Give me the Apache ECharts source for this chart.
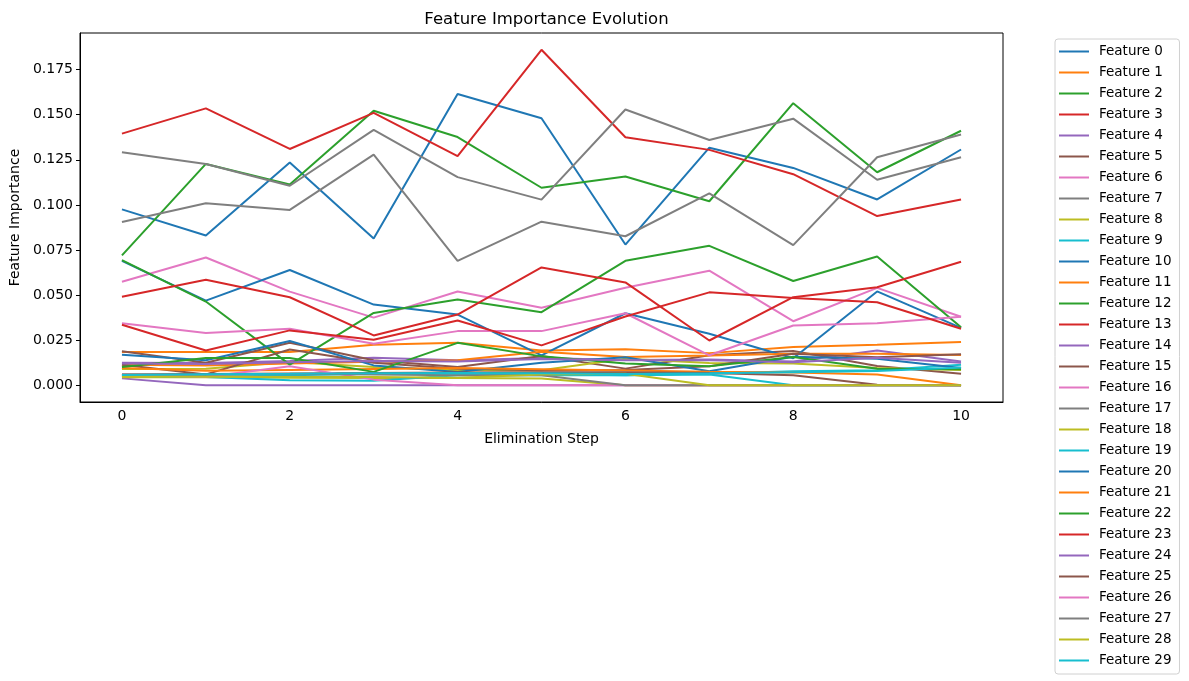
<!DOCTYPE html>
<html>
<head>
<meta charset="utf-8">
<script src="https://cdn.jsdelivr.net/npm/echarts@6/dist/echarts.min.js"></script>
<style>html,body{margin:0;padding:0;background:#fff;}#c{width:1189px;height:681px;}</style>
</head>
<body>
<div id="c"></div>
<script>
const steps = ['0','1','2','3','4','5','6','7','8','9','10'];
const yTicks = [0, 0.025, 0.05, 0.075, 0.1, 0.125, 0.15, 0.175];
const colors = ['#1f77b4','#ff7f0e','#2ca02c','#d62728','#9467bd','#8c564b','#e377c2','#7f7f7f','#bcbd22','#17becf'];

const f0  = [0.0975, 0.083, 0.1235, 0.0813, 0.1615, 0.148, 0.078, 0.1317, 0.1205, 0.103, 0.1307];
const f1  = [0.0184, 0.0184, 0.0184, 0.0225, 0.0235, 0.0193, 0.0199, 0.0178, 0.0212, 0.0224, 0.0239];
const f2  = [0.072, 0.1227, 0.1113, 0.1522, 0.1376, 0.1095, 0.1157, 0.102, 0.1564, 0.1181, 0.1411];
const f3  = [0.1395, 0.1535, 0.131, 0.151, 0.127, 0.186, 0.1375, 0.1305, 0.117, 0.0938, 0.103];
const f4  = [0.0125, 0.0123, 0.0135, 0.0153, 0.0138, 0.0151, 0.014, 0.0143, 0.0132, 0.0193, 0.0132];
const f5  = [0.0188, 0.0125, 0.0235, 0.0138, 0.0101, 0.0162, 0.0092, 0.0166, 0.019, 0.0107, 0.0064];
const f6  = [0.0574, 0.0708, 0.0519, 0.0375, 0.052, 0.043, 0.054, 0.0635, 0.0355, 0.054, 0.038];
const f7  = [0.1292, 0.1227, 0.1106, 0.1416, 0.1154, 0.1029, 0.1529, 0.136, 0.1478, 0.1139, 0.1264];
const f8  = [0.009, 0.0092, 0.0129, 0.0101, 0.0083, 0.0083, 0.0147, 0.0123, 0.012, 0.0095, 0.0085];
const f9  = [0.0054, 0.0059, 0.0055, 0.0063, 0.0063, 0.0062, 0.0055, 0.0064, 0.0077, 0.0083, 0.0114];
const f10 = [0.069, 0.0469, 0.0639, 0.0447, 0.0392, 0.0166, 0.0399, 0.0285, 0.015, 0.052, 0.0318];
const f11 = [0.0114, 0.011, 0.012, 0.013, 0.0138, 0.0185, 0.0156, 0.0165, 0.0175, 0.0175, 0.0168];
const f12 = [0.0694, 0.0464, 0.0114, 0.0401, 0.0475, 0.0405, 0.069, 0.0773, 0.0578, 0.0714, 0.0322];
const f13 = [0.0491, 0.0585, 0.0488, 0.0276, 0.0392, 0.0653, 0.057, 0.0248, 0.0488, 0.0543, 0.0685];
const f14 = [0.0038, 0, 0, 0, 0, 0, 0, 0, 0, 0, 0];
const f15 = [0.0114, 0.006, 0.0198, 0.0125, 0.0092, 0.0083, 0.0085, 0.0105, 0.0175, 0.0155, 0.0172];
const f16 = [0.0344, 0.0289, 0.0313, 0.023, 0.03, 0.03, 0.0399, 0.0166, 0.0331, 0.0344, 0.038];
const f17 = [0.0905, 0.1009, 0.0972, 0.1279, 0.069, 0.0907, 0.0826, 0.1064, 0.0777, 0.1264, 0.139];
const f18 = [0.0044, 0.0044, 0.0042, 0.004, 0.004, 0.0037, 0, 0, 0, 0, 0];
const f19 = [0.0052, 0.0045, 0.0028, 0.0025, 0.0055, 0.0055, 0.0055, 0.006, 0, 0, 0];
const f20 = [0.0169, 0.0138, 0.0245, 0.011, 0.0074, 0.0125, 0.0155, 0.0077, 0.0158, 0.0147, 0.0095];
const f21 = [0.0095, 0.008, 0.0085, 0.009, 0.0095, 0.0088, 0.0082, 0.0075, 0.007, 0.0059, 0];
const f22 = [0.0101, 0.0151, 0.0151, 0.0074, 0.0235, 0.016, 0.012, 0.0105, 0.0156, 0.0092, 0.0088];
const f23 = [0.0335, 0.0193, 0.0304, 0.0252, 0.0359, 0.0221, 0.0381, 0.0515, 0.0484, 0.046, 0.0313];
const f24 = [0.0121, 0.0118, 0.0128, 0.0135, 0.0132, 0.0145, 0.0138, 0.0138, 0.0128, 0.0153, 0.0125];
const f25 = [0.006, 0.0062, 0.0065, 0.0068, 0.007, 0.0072, 0.0072, 0.0068, 0.0055, 0.0003, 0];
const f26 = [0.0058, 0.0045, 0.0105, 0.0031, 0, 0, 0, 0, 0, 0, 0];
const f27 = [0.006, 0.0058, 0.0062, 0.006, 0.0055, 0.0055, 0, 0, 0, 0, 0];
const f28 = [0.0048, 0.0047, 0.0046, 0.0045, 0.0042, 0.006, 0.0063, 0, 0, 0, 0];
const f29 = [0.0057, 0.0061, 0.0063, 0.0067, 0.0068, 0.0066, 0.0062, 0.0066, 0.0072, 0.0079, 0.0098];

const featureData = [f0,f1,f2,f3,f4,f5,f6,f7,f8,f9,f10,f11,f12,f13,f14,f15,f16,f17,f18,f19,f20,f21,f22,f23,f24,f25,f26,f27,f28,f29];
const names = featureData.map((_, i) => 'Feature ' + i);

const series = featureData.map((d, i) => ({
  name: names[i],
  type: 'line',
  data: d,
  symbol: 'none',
  showSymbol: false,
  animation: false,
  lineStyle: { width: 2, color: colors[i % 10] },
  itemStyle: { color: colors[i % 10] }
}));

const chart = echarts.init(document.getElementById('c'), null, { renderer: 'canvas' });
const font = 'DejaVu Sans';
chart.setOption({
  animation: false,
  backgroundColor: '#fff',
  title: {
    text: 'Feature Importance Evolution',
    left: 541.5, top: 6, textAlign: 'center',
    textStyle: { fontFamily: font, fontSize: 16.5, fontWeight: 'normal', color: '#000' }
  },
  grid: {
    left: 80, right: 186, top: 33, bottom: 279,
    show: true, borderColor: '#000', borderWidth: 1, backgroundColor: 'transparent'
  },
  legend: {
    orient: 'vertical',
    left: 1055, top: 39,
    icon: 'rect', itemWidth: 30, itemHeight: 2,
    itemGap: 6,
    padding: [5, 8, 6, 4],
    borderColor: '#d0d0d0', borderWidth: 1, borderRadius: 3,
    backgroundColor: '#fff',
    data: names,
    textStyle: { fontFamily: font, fontSize: 13.5, color: '#000', lineHeight: 15, padding: [0, 0, 0, 5] }
  },
  xAxis: {
    type: 'category',
    data: steps,
    boundaryGap: true,
    name: 'Elimination Step',
    nameLocation: 'middle', nameGap: 30,
    nameTextStyle: { fontFamily: font, fontSize: 14, color: '#000' },
    axisLine: { onZero: false, lineStyle: { color: '#000', width: 1 } },
    axisTick: { interval: 1, alignWithLabel: true, length: 4, lineStyle: { color: '#000' } },
    axisLabel: { interval: 1, fontFamily: font, fontSize: 14, color: '#000', margin: 7 },
    splitLine: { show: false }
  },
  yAxis: {
    type: 'value',
    min: -0.0093, max: 0.1953,
    name: 'Feature Importance',
    nameLocation: 'middle', nameGap: 55,
    nameTextStyle: { fontFamily: font, fontSize: 14, color: '#000' },
    axisLine: { show: true, onZero: false, lineStyle: { color: '#000', width: 1 } },
    axisTick: { show: true, length: 4, customValues: yTicks, lineStyle: { color: '#000' } },
    axisLabel: { fontFamily: font, fontSize: 14, color: '#000', margin: 7, customValues: yTicks,
      formatter: v => v.toFixed(3) },
    splitLine: { show: false }
  },
  series: series
});
</script>
</body>
</html>
